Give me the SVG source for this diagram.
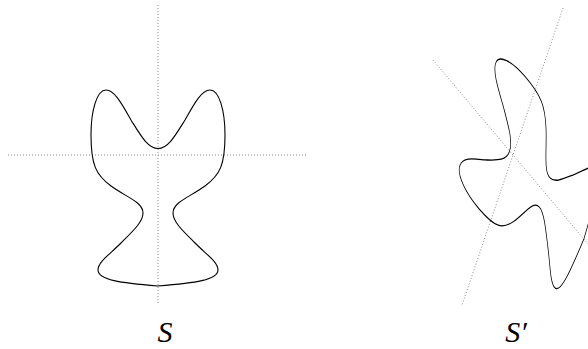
<svg xmlns="http://www.w3.org/2000/svg" width="588" height="349" viewBox="0 0 588 349">
<defs>
<style>
.axis{stroke:#8c8c8c;stroke-width:1;stroke-dasharray:1 2;fill:none}
.curve{stroke:#000;stroke-width:1.1;fill:none;vector-effect:non-scaling-stroke}
.lbl{font-family:"Liberation Serif",serif;font-style:italic;font-size:30px;fill:#000;text-anchor:middle}
</style>
<path id="shape" d="M158,148.5 C168,148.5 175,136 185,120 C193,106 201,90 210,90 C219,90 225,110 225,135 C225,165 220,175 205,186 C190,197 173,202 173,213 C173,222 183,231 195,243 C207,255 218,262 218,270 C218,280 195,283 158,286 C121,283 98,280 98,270 C98,262 109,255 121,243 C133,231 143,222 143,213 C143,202 126,197 111,186 C96,175 91,165 91,135 C91,110 97,90 106,90 C115,90 123,106 131,120 C141,136 148,148.5 158,148.5 Z"/>
</defs>
<g id="axes">
<line class="axis" x1="158" y1="5" x2="158" y2="305"/>
<line class="axis" x1="8" y1="155" x2="306" y2="155"/>
<line class="axis" x1="433" y1="60" x2="593" y2="250"/>
<line class="axis" x1="563" y1="8" x2="462" y2="305"/>
</g>
<g id="S">
<use href="#shape" class="curve"/>
<text class="lbl" x="165" y="342">S</text>
</g>
<g id="S-prime">
<use href="#shape" class="curve" transform="matrix(0.345 -0.986 0.542 0.634 374.5 213)"/>
<text class="lbl" x="516" y="342">S′</text>
</g>
</svg>
